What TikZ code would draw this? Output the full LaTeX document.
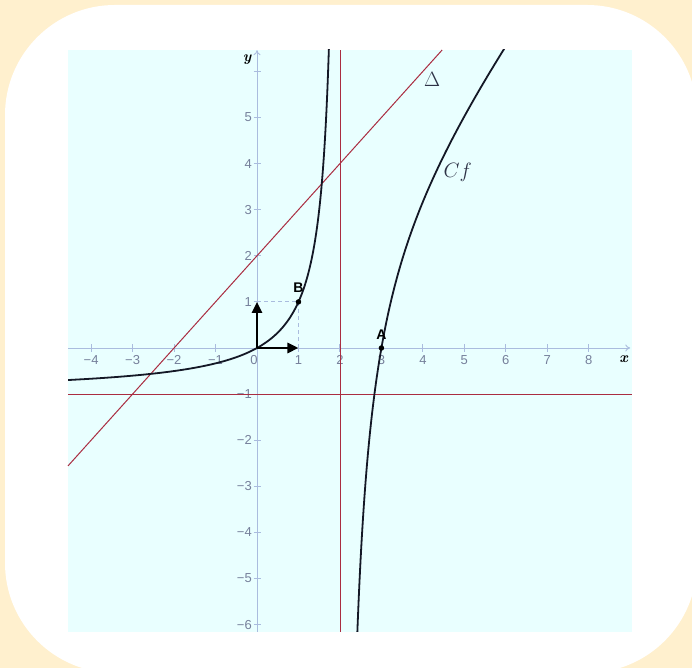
\documentclass[tikz,border=0pt]{standalone}
\usepackage{fontspec}
\setsansfont{Liberation Sans}
\usetikzlibrary{arrows.meta}
\definecolor{bgyellow}{RGB}{255,240,206}
\definecolor{plotcyan}{RGB}{233,255,255}
\definecolor{axisblue}{RGB}{170,188,222}
\definecolor{ticklabel}{RGB}{118,128,155}
\definecolor{redline}{RGB}{170,45,65}
\definecolor{curveblack}{RGB}{20,24,38}
\definecolor{labeldark}{RGB}{45,50,70}
\tikzset{
  axisline/.style={draw=axisblue,line width=0.9pt},
  ticklab/.style={text=ticklabel,font=\sffamily\fontsize{13}{13}\selectfont,inner sep=0pt},
  redl/.style={draw=redline,line width=1pt},
  curve/.style={draw=curveblack,line width=1.8pt},
  vec/.style={draw=black,line width=2.6pt,-{Triangle[length=11pt,width=10pt]}},
  guide/.style={draw=axisblue,line width=0.8pt,dash pattern=on 4pt off 3pt},
  pointdot/.style={circle,fill=black,inner sep=0pt,minimum size=5.5pt},
  ptlab/.style={font=\sffamily\bfseries\fontsize{14}{14}\selectfont,inner sep=0pt},
  axlab/.style={font=\bfseries\itshape\fontsize{15}{15}\selectfont,inner sep=0pt},
  biglab/.style={text=labeldark,font=\fontsize{20}{22}\selectfont,inner sep=0pt}
}
\begin{document}
\begin{tikzpicture}
\useasboundingbox (0pt,0pt) rectangle (692pt,668pt);
\clip (0pt,0pt) rectangle (692pt,668pt);
\fill[bgyellow] (0pt,0pt) rectangle (692pt,668pt);
\fill[white,rounded corners=110pt] (5pt,-5pt) rectangle (697pt,663pt);
\fill[plotcyan] (68pt,36pt) rectangle (632pt,618pt);
\begin{scope}[shift={(257pt,320pt)},x=41.47pt,y=46.1pt]
  \coordinate (O) at (0,0);
  \coordinate (xl) at (-4.557,0);
  \coordinate (xr) at (9.0,0);
  \coordinate (yb) at (0,-6.16);
  \coordinate (yt) at (0,6.46);
  \coordinate (I) at (1,0);
  \coordinate (J) at (0,1);
  \coordinate (BB) at (1,1);
  % axes
  \draw[axisline,-{To[length=5pt,width=7pt]}] (xl) -- (xr);
  \draw[axisline,-{To[length=5pt,width=7pt]}] (yb) -- (yt);
  \foreach \i in {-4,...,8} {
    \draw[axisline] (\i,0) ++(0pt,-4pt) -- ++(0pt,8pt);
  }
  \foreach \j in {-6,...,6} {
    \draw[axisline] (0,\j) ++(-3.5pt,0pt) -- ++(7pt,0pt);
  }
  \foreach \i/\t in {-4/−4,-3/−3,-2/−2,-1/−1,1/1,2/2,3/3,4/4,5/5,6/6,7/7,8/8} {
    \node[ticklab,anchor=north] (xt\i) at ([yshift=-7pt]\i,0) {\t};
  }
  \node[ticklab,anchor=north] (xt0) at ([xshift=-3pt,yshift=-7pt]0,0) {0};
  \foreach \j/\t in {-6/−6,-5/−5,-4/−4,-3/−3,-2/−2,-1/−1,1/1,2/2,3/3,4/4,5/5} {
    \node[ticklab,anchor=east] (yt\j) at ([xshift=-5pt]0,\j) {\t};
  }
  \node[axlab] (xname) at (8.84,-0.24) {x};
  \node[axlab] (yname) at (-0.24,6.25) {y};
  % red lines
  \coordinate (hl) at (-4.557,-1);
  \coordinate (hr) at (9.043,-1);
  \coordinate (vb) at (2.02,-6.16);
  \coordinate (vt) at (2.02,6.464);
  \coordinate (dl) at (-4.557,-2.557);
  \coordinate (dr) at (4.464,6.464);
  \draw[redl] (hl) -- (hr);
  \draw[redl] (vb) -- (vt);
  \draw[redl] (dl) -- (dr);
  % guides
  \draw[guide] (J) -- (BB) -- (I);
  % curves
  \begin{scope}
    \clip (-4.557,-6.16) rectangle (9.043,6.464);
    \draw[curve] plot[domain=-4.6:1,samples=150,smooth] (\x,{\x/(2-\x)})
      -- plot[domain=1:6.6,samples=150,smooth] ({2*\x/(1+\x)},\x);
    \draw[curve] plot[domain=2.41:5.98,samples=400,smooth] (\x,{(\x-3)*(1.193*\x+1.571)/(\x-2)});
  \end{scope}
  % vectors
  \draw[vec] (O) -- (I);
  \draw[vec] (O) -- (J);
  % points
  \node[pointdot] (A) at (3,0) {};
  \node[pointdot] (B) at (1,1) {};
  \node[ptlab] (Alab) at ([yshift=13pt]3,0) {A};
  \node[ptlab] (Blab) at ([yshift=14pt]1,1) {B};
  % labels
  \node[biglab] (Dlab) at (4.22,5.82) {$\Delta$};
  \node[biglab] (Clab) at (4.84,3.82) {$Cf$};
\end{scope}
\end{tikzpicture}
\end{document}
